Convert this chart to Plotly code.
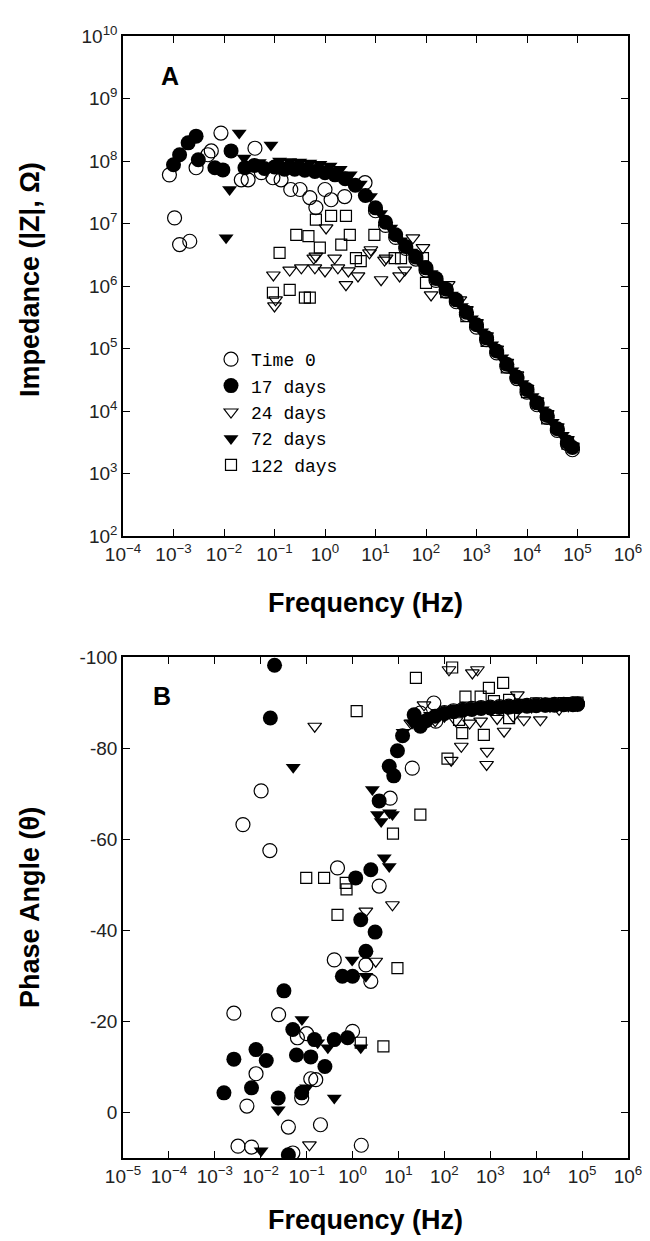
import plotly.graph_objects as go

# ---------------- DATA ----------------
series_names = ["Time 0", "17 days", "24 days", "72 days", "122 days"]

# Panel A : impedance |Z| (ohm) vs frequency (Hz)
a_t0_f = [8.3e-4, 1.05e-3, 1.32e-3, 2.1e-3, 2.8e-3, 4.8e-3, 5.6e-3, 8.7e-3, 2.2e-2, 3.0e-2, 4.1e-2, 5.5e-2,
          9.3e-2, 0.135, 0.21, 0.32, 0.5, 0.66, 1.0, 1.32, 2.45, 6.2,
          10, 15.8, 25.1, 39.8, 63.1, 100, 158, 251, 398, 631, 1000, 1585, 2512, 3981, 6310,
          1e4, 1.58e4, 2.51e4, 3.98e4, 6.31e4, 7.94e4]
a_t0_z = [6.0e7, 1.23e7, 4.6e6, 5.2e6, 7.8e7, 1.26e8, 1.45e8, 2.8e8, 5.0e7, 5.0e7, 1.6e8, 6.5e7,
          5.4e7, 5.0e7, 3.5e7, 3.5e7, 2.6e7, 1.8e7, 3.5e7, 2.4e7, 2.7e7, 4.5e7,
          1.6e7, 9.3e6, 6.0e6, 4.0e6, 2.7e6, 1.8e6, 1.23e6, 8.3e5, 5.6e5, 3.5e5, 2.2e5, 1.38e5, 8.5e4, 5.2e4, 3.3e4,
          2.0e4, 1.26e4, 7.9e3, 4.9e3, 3.0e3, 2.4e3]

a_17_f = [1.0e-3, 1.32e-3, 1.95e-3, 2.8e-3, 3.1e-3, 6.6e-3, 9.5e-3, 1.38e-2, 2.6e-2,
          0.04, 0.063, 0.1, 0.158, 0.251, 0.398, 0.631, 1.0, 1.58, 2.51, 3.98, 6.31,
          10, 15.8, 25.1, 39.8, 63.1, 100, 158, 251, 398, 631, 1000, 1585, 2512, 3981, 6310,
          1e4, 1.58e4, 2.51e4, 3.98e4, 6.31e4, 7.94e4]
a_17_z = [8.7e7, 1.26e8, 1.95e8, 2.5e8, 1.05e8, 7.8e7, 7.2e7, 1.45e8, 7.8e7,
          8.5e7, 7.6e7, 8.0e7, 7.4e7, 7.4e7, 7.1e7, 6.8e7, 6.5e7, 6.0e7, 5.2e7, 4.1e7, 2.8e7,
          1.78e7, 1.05e7, 6.6e6, 4.3e6, 2.9e6, 1.95e6, 1.32e6, 8.9e5, 6.0e5, 3.8e5, 2.4e5, 1.48e5, 9.1e4, 5.6e4, 3.5e4,
          2.2e4, 1.35e4, 8.5e3, 5.2e3, 3.2e3, 2.6e3]

a_24_f = [0.095, 0.1, 0.105, 0.2, 0.34, 0.6, 0.63, 0.66, 1.0, 1.05, 1.55, 1.8, 2.6, 2.9, 4.5, 7.6, 8.1,
          12.9, 15.1, 16.2, 30, 38, 55, 87, 126, 275, 468,
          631, 1000, 1585, 2512, 3981, 6310, 1e4, 1.58e4, 2.51e4, 3.98e4, 6.31e4, 7.94e4]
a_24_z = [1.5e6, 4.8e5, 6.0e5, 1.8e6, 1.95e6, 2.8e6, 1.95e6, 3.0e6, 1.74e6, 8.5e6, 2.8e6, 1.95e6, 1.05e6, 1.74e6,
          1.45e6, 3.4e6, 3.8e6, 1.26e6, 2.6e6, 2.8e6, 1.45e6, 1.8e6, 5.9e6, 4.1e6, 7.2e5, 1.05e6, 6.0e5,
          4.2e5, 2.6e5, 1.6e5, 9.8e4, 6.0e4, 3.8e4, 2.3e4, 1.45e4, 9.1e3, 5.6e3, 3.5e3, 2.75e3]

a_72_f = [1.1e-2, 1.29e-2, 2.0e-2, 2.5e-2, 0.05, 8.5e-2,
          0.126, 0.2, 0.316, 0.5, 0.794, 1.26, 2.0, 3.16, 5.01, 7.94,
          12.6, 20, 31.6, 50.1, 79.4, 126, 200, 316, 501, 794, 1259, 1995, 3162, 5012, 7943,
          1.26e4, 2.0e4, 3.16e4, 5.01e4, 7.94e4]
a_72_z = [5.9e6, 3.5e7, 2.8e8, 1.12e8, 9.5e7, 1.8e8,
          1.0e8, 9.8e7, 9.6e7, 9.3e7, 8.9e7, 8.3e7, 7.4e7, 6.0e7, 4.3e7, 2.7e7,
          1.45e7, 8.5e6, 5.3e6, 3.5e6, 2.3e6, 1.58e6, 1.07e6, 7.2e5, 4.7e5, 3.0e5, 1.86e5, 1.15e5, 7.1e4, 4.4e4, 2.75e4,
          1.7e4, 1.05e4, 6.6e3, 4.1e3, 2.6e3]

a_122_f = [0.093, 0.126, 0.2, 0.27, 0.4, 0.47, 0.5, 0.66, 0.79, 1.32, 2.1, 2.6, 3.1, 4.1, 5.1, 9.5,
           24, 32, 87, 100, 251, 631, 1585, 3981, 1e4, 2.51e4, 6.31e4]
a_122_z = [7.8e5, 3.4e6, 8.7e5, 6.6e6, 6.5e5, 6.3e6, 6.5e5, 1.15e7, 4.1e6, 1.32e7, 4.6e6, 1.32e7, 6.6e6, 2.8e6,
           2.5e6, 6.6e6, 2.8e6, 2.8e6, 2.8e6, 1.12e6, 8.0e5, 3.3e5, 1.32e5, 5.0e4, 2.0e4, 7.6e3, 3.0e3]

# Panel B : phase angle (degrees) vs frequency (Hz)
b_t0_f = [2.6e-3, 3.2e-3, 4.1e-3, 5.0e-3, 6.3e-3, 7.9e-3, 1.02e-2, 1.58e-2, 2.45e-2, 4.0e-2, 5.0e-2, 6.3e-2,
          7.8e-2, 0.1, 0.123, 0.158, 0.2, 0.4, 0.47, 1.0, 1.55, 1.95, 2.5, 3.8, 6.6, 20, 30, 59, 65,
          100, 158, 251, 398, 631, 1000, 1585, 2512, 3981, 6310, 1e4, 1.58e4, 2.51e4, 3.98e4, 6.31e4, 7.94e4]
b_t0_p = [-21.8, 7.4, -63.2, -1.4, 7.6, -8.5, -70.6, -57.5, -21.5, 3.2, 8.9, -16.4,
          -3.2, -17.3, -7.4, -7.2, 2.7, -33.5, -53.7, -17.8, 7.2, -32.4, -28.8, -49.7, -69.0, -75.6, -87.7, -89.9, -85.9,
          -87.8, -88.2, -88.5, -88.7, -88.9, -89.0, -89.1, -89.2, -89.3, -89.4, -89.5, -89.5, -89.6, -89.6, -89.7, -89.7]

b_17_f = [1.58e-3, 2.6e-3, 6.3e-3, 7.9e-3, 1.32e-2, 1.62e-2, 2.0e-2, 2.4e-2, 3.2e-2, 4.0e-2, 5.0e-2, 6.0e-2,
          7.8e-2, 0.123, 0.148, 0.25, 0.4, 0.6, 0.78, 1.0, 1.17, 1.51, 1.95, 2.5, 3.1, 3.8, 6.3, 7.9, 9.5, 12.3,
          22, 30, 40, 63, 100, 158, 251, 398, 631, 1000, 1585, 2512, 3981, 6310, 1e4, 1.58e4, 2.51e4, 3.98e4,
          6.31e4, 7.94e4]
b_17_p = [-4.3, -11.7, -5.4, -13.8, -11.4, -86.6, -98.2, -3.2, -26.7, 9.3, -18.2, -12.6,
          -4.3, -12.2, -16.0, -10.1, -16.0, -29.9, -16.4, -29.9, -51.5, -42.3, -35.4, -53.3, -39.6, -68.4, -76.0,
          -73.9, -79.4, -82.7, -87.3, -84.8, -86.0, -87.0, -87.6, -88.0, -88.3, -88.5, -88.7, -88.8, -88.9, -89.0,
          -89.1, -89.2, -89.3, -89.4, -89.4, -89.5, -89.5, -89.6]

b_24_f = [0.115, 0.15, 1.95, 3.2, 7.4, 18.6, 36, 63, 100, 126, 141, 178, 234, 355, 407, 525, 617, 832, 851,
          1000, 1413, 2000, 2512, 3162, 3890, 5370, 7943, 1.23e4, 2.0e4, 3.16e4, 5.01e4, 7.94e4]
b_24_p = [7.1, -84.8, -44.2, -33.2, -45.6, -85.5, -89.5, -86.0, -87.0, -97.2, -77.3, -86.0, -80.4, -85.5, -96.5,
          -97.2, -85.9, -76.4, -79.3, -88.5, -86.5, -83.7, -88.8, -87.0, -91.7, -86.2, -89.0, -86.2, -89.2, -88.5,
          -89.3, -89.4]

b_72_f = [1.02e-2, 2.4e-2, 5.1e-2, 7.9e-2, 0.1, 0.174, 0.29, 0.4, 0.98, 1.51, 1.95, 2.7, 3.5, 4.2, 4.9, 6.3,
          6.4, 7.4, 12.6, 20, 31.6, 50, 79, 126, 200, 316, 501, 794, 1259, 1995, 3162, 5012, 7943, 1.26e4, 2.0e4,
          3.16e4, 5.01e4, 7.94e4]
b_72_p = [8.4, -0.6, -75.8, -20.4, -5.4, -15.3, -14.2, -3.2, -33.5, -14.2, -29.9, -70.9, -65.4, -63.9, -55.9, -54.0,
          -65.8, -65.4, -83.5, -85.5, -86.5, -87.2, -87.7, -88.1, -88.4, -88.6, -88.8, -88.9, -89.0, -89.1, -89.2,
          -89.3, -89.4, -89.4, -89.5, -89.5, -89.6, -89.6]

b_122_f = [9.8e-2, 0.24, 0.47, 0.71, 0.74, 1.23, 1.51, 4.7, 7.6, 9.5, 24, 30, 117, 148, 209, 245, 288, 617, 724,
           933, 1202, 1905, 2570, 2570, 5012, 1e4, 2.0e4, 3.98e4, 7.94e4]
b_122_p = [-51.5, -51.5, -43.4, -50.4, -49.0, -88.1, -15.3, -14.5, -61.2, -31.7, -95.4, -65.4, -77.7, -97.7, -86.2,
           -83.3, -91.3, -91.3, -82.9, -93.2, -90.3, -94.3, -90.6, -86.6, -89.5, -89.8, -89.7, -89.9, -90.0]

# Tick labels
a_xtick_vals = [1e-4, 1e-3, 1e-2, 1e-1, 1, 10, 100, 1e3, 1e4, 1e5, 1e6]
a_xtick_text = ["10<sup>−4</sup>", "10<sup>−3</sup>", "10<sup>−2</sup>", "10<sup>−1</sup>", "10<sup>0</sup>",
                "10<sup>1</sup>", "10<sup>2</sup>", "10<sup>3</sup>", "10<sup>4</sup>", "10<sup>5</sup>",
                "10<sup>6</sup>"]
a_ytick_vals = [1e2, 1e3, 1e4, 1e5, 1e6, 1e7, 1e8, 1e9, 1e10]
a_ytick_text = ["10<sup>2</sup>", "10<sup>3</sup>", "10<sup>4</sup>", "10<sup>5</sup>", "10<sup>6</sup>",
                "10<sup>7</sup>", "10<sup>8</sup>", "10<sup>9</sup>", "10<sup>10</sup>"]
b_xtick_vals = [1e-5] + a_xtick_vals
b_xtick_text = ["10<sup>−5</sup>"] + a_xtick_text
b_ytick_vals = [-100, -80, -60, -40, -20, 0]
b_ytick_text = ["-100", "-80", "-60", "-40", "-20", "0"]

# ---------------- STYLE / LAYOUT ----------------
W, H = 650, 1241
def px(x):
    return x / W
def py(y):
    return 1 - y / H

styles = {
    "Time 0": dict(symbol="circle-open", size=14, color="black", line=dict(width=1.2, color="black")),
    "17 days": dict(symbol="circle", size=15, color="black", line=dict(width=0)),
    "24 days": dict(symbol="triangle-down-open", size=12, color="black", line=dict(width=1.2, color="black")),
    "72 days": dict(symbol="triangle-down", size=13, color="black", line=dict(width=0)),
    "122 days": dict(symbol="square-open", size=11, color="black", line=dict(width=1.2, color="black")),
}

a_data = {"Time 0": (a_t0_f, a_t0_z), "17 days": (a_17_f, a_17_z), "24 days": (a_24_f, a_24_z),
          "72 days": (a_72_f, a_72_z), "122 days": (a_122_f, a_122_z)}
b_data = {"Time 0": (b_t0_f, b_t0_p), "17 days": (b_17_f, b_17_p), "24 days": (b_24_f, b_24_p),
          "72 days": (b_72_f, b_72_p), "122 days": (b_122_f, b_122_p)}

fig = go.Figure()
for name in series_names:
    f, z = a_data[name]
    fig.add_trace(go.Scatter(x=f, y=z, mode="markers", name=name, marker=styles[name],
                             xaxis="x", yaxis="y", showlegend=True))
for name in series_names:
    f, p = b_data[name]
    fig.add_trace(go.Scatter(x=f, y=p, mode="markers", name=name, marker=styles[name],
                             xaxis="x2", yaxis="y2", showlegend=False))

tickfont = dict(family="Liberation Sans", size=19, color="#222")
common = dict(showline=True, linecolor="black", linewidth=1.5, mirror="ticks", ticks="inside", ticklen=7,
              tickwidth=1.2, tickcolor="black", showgrid=False, zeroline=False, tickfont=tickfont,
              automargin=False, tickmode="array")

fig.update_layout(
    width=W, height=H, margin=dict(l=0, r=0, t=0, b=0),
    paper_bgcolor="white", plot_bgcolor="white",
    xaxis=dict(type="log", range=[-4, 6], domain=[px(115), px(620)], anchor="y",
               tickvals=a_xtick_vals, ticktext=a_xtick_text, **common),
    yaxis=dict(type="log", range=[2, 10], domain=[py(528), py(28)], anchor="x",
               tickvals=a_ytick_vals, ticktext=a_ytick_text, **common),
    xaxis2=dict(type="log", range=[-5, 6], domain=[px(115), px(620)], anchor="y2",
                tickvals=b_xtick_vals, ticktext=b_xtick_text, **common),
    yaxis2=dict(range=[10, -100], domain=[py(1150), py(649)], anchor="x2",
                tickvals=b_ytick_vals, ticktext=b_ytick_text, **common),
    legend=dict(x=px(203), y=py(333), xanchor="left", yanchor="top", bgcolor="rgba(0,0,0,0)",
                font=dict(family="Liberation Mono", size=18, color="black"), itemsizing="trace"),
    showlegend=True,
)

title_font = dict(family="Liberation Sans", size=27, color="black")
annots = [
    dict(text="<b>A</b>", x=px(162), y=py(68), font=dict(family="Liberation Sans", size=25, color="black")),
    dict(text="<b>B</b>", x=px(154), y=py(688), font=dict(family="Liberation Sans", size=25, color="black")),
    dict(text="<b>Frequency (Hz)</b>", x=px(357), y=py(595), font=title_font),
    dict(text="<b>Frequency (Hz)</b>", x=px(357), y=py(1212), font=title_font),
    dict(text="<b>Impedance (|Z|, Ω)</b>", x=px(22), y=py(272), textangle=-90, font=title_font),
    dict(text="<b>Phase Angle (θ)</b>", x=px(22), y=py(900), textangle=-90, font=title_font),
]
for a in annots:
    fig.add_annotation(xref="paper", yref="paper", showarrow=False, xanchor="center", yanchor="middle", **a)

fig.write_html("out.html")
